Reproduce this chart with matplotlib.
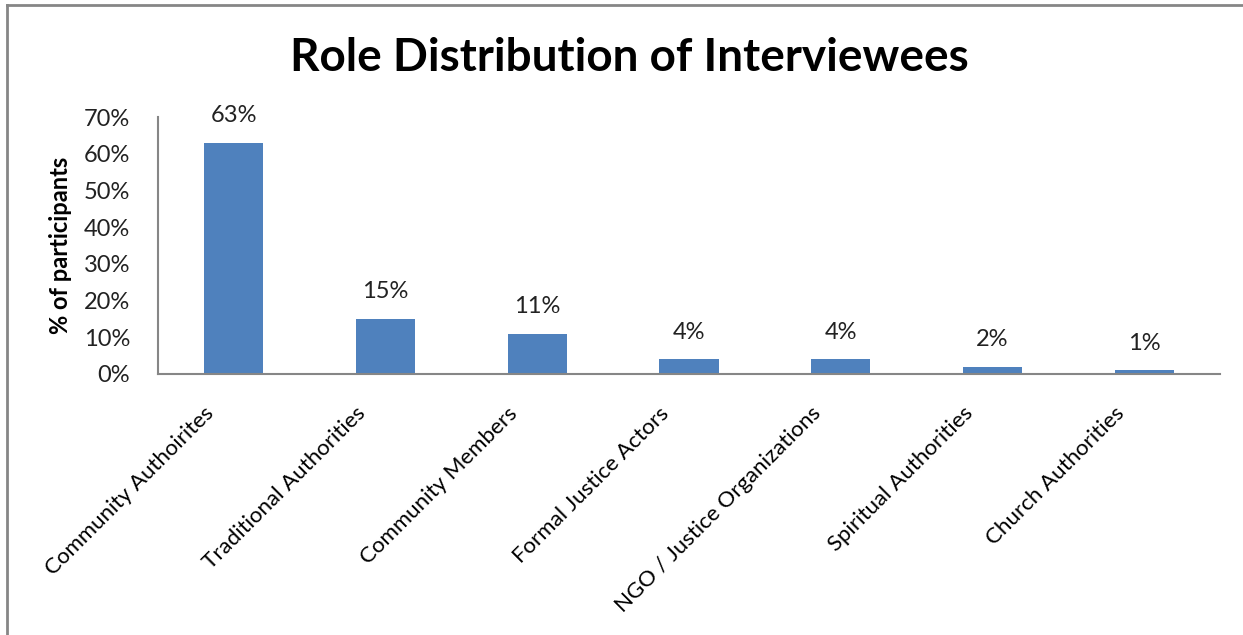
import matplotlib.pyplot as plt
from matplotlib.ticker import FuncFormatter
from matplotlib.transforms import ScaledTranslation

categories = ["Community Authoirites", "Traditional Authorities", "Community Members",
              "Formal Justice Actors", "NGO / Justice Organizations",
              "Spiritual Authorities", "Church Authorities"]
values = [63, 15, 11, 4, 4, 2, 1]
y_ticks = [0, 10, 20, 30, 40, 50, 60, 70]

plt.rcParams["font.family"] = ["Lato", "DejaVu Sans"]

fig = plt.figure(figsize=(12.43, 6.35), dpi=100)
ax = fig.add_axes([158 / 1243, 1 - 374 / 635, (1220 - 158) / 1243, (374 - 117) / 635])

x = list(range(len(categories)))
ax.bar(x, values, width=0.39, color="#4F81BD", zorder=2)
for xi, v in zip(x, values):
    ax.text(xi, v + 4.5, f"{v}%", ha="center", va="bottom", fontsize=17, color="#222222")

ax.set_xlim(-0.5, len(categories) - 0.5)
ax.set_ylim(0, 70)
ax.set_yticks(y_ticks)
ax.yaxis.set_major_formatter(FuncFormatter(lambda v, p: f"{int(v)}%"))
ax.tick_params(axis="y", length=0, labelsize=17, pad=20, labelcolor="#222222")
ax.set_xticks(x)
ax.set_xticklabels(categories, rotation=45, ha="right", rotation_mode="anchor", fontsize=16)
ax.tick_params(axis="x", length=0, pad=21)
shift = ScaledTranslation(-30 / 100, 0, fig.dpi_scale_trans)
for lbl in ax.get_xticklabels():
    lbl.set_transform(lbl.get_transform() + shift)

for s in ["top", "right"]:
    ax.spines[s].set_visible(False)
for s in ["left", "bottom"]:
    ax.spines[s].set_color("#868686")
    ax.spines[s].set_linewidth(1.5)

ax.set_ylabel("% of participants", fontsize=17, fontweight="bold")
ax.yaxis.set_label_coords(-0.081, 0.5)

fig.text(629 / 1243, 1 - 58 / 635, "Role Distribution of Interviewees",
         ha="center", va="center", fontsize=33, fontweight="bold")

# chart area border (left and top edges visible)
fig.add_artist(plt.Line2D([7 / 1243, 7 / 1243], [0, 1 - 5 / 635], transform=fig.transFigure,
                          color="#868686", linewidth=2))
fig.add_artist(plt.Line2D([7 / 1243, 1], [1 - 5 / 635, 1 - 5 / 635], transform=fig.transFigure,
                          color="#868686", linewidth=2))

fig.savefig("out.png", dpi=100)
